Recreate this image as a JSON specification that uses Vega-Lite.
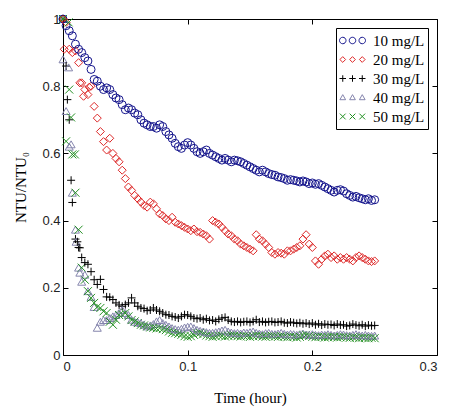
{
"$schema": "https://vega.github.io/schema/vega-lite/v6.json",
"width": 374, "height": 336,
"autosize": "none",
"padding": {"left": 63, "top": 19, "right": 21, "bottom": 58},
"background": "white",
"config": {"view": {"stroke": null},
 "axis": {"grid": false, "domainColor": "black", "tickColor": "black", "labelFont": "Liberation Sans, Arial, sans-serif", "labelFontSize": 13, "labelColor": "#222222", "titleFont": "Liberation Serif, Times New Roman, serif", "titleFontSize": 15, "titleFontWeight": "normal", "titleColor": "black", "tickSize": -5, "domainWidth": 1, "tickWidth": 1}},
"data": {"values": [
{"t":0,"a":1.0,"b":1.0,"c":1.0,"d":0.88,"e":1.0},
{"t":0.0025,"a":0.98,"b":0.99,"c":0.86,"d":0.726,"e":0.636},
{"t":0.005,"a":0.965,"b":0.91,"c":0.70,"d":0.62,"e":0.79},
{"t":0.0075,"a":0.95,"b":0.90,"c":0.454,"d":0.483,"e":0.597},
{"t":0.01,"a":0.925,"b":0.905,"c":0.345,"d":0.373,"e":0.483},
{"t":0.0125,"a":0.91,"b":0.87,"c":0.32,"d":0.26,"e":0.373},
{"t":0.015,"a":0.90,"b":0.81,"c":0.29,"d":0.218,"e":0.26},
{"t":0.0175,"a":0.885,"b":0.79,"c":0.275,"d":0.239,"e":0.224},
{"t":0.02,"a":0.875,"b":0.775,"c":0.27,"d":0.19,"e":0.19},
{"t":0.0225,"a":0.85,"b":0.80,"c":0.248,"d":0.173,"e":0.17},
{"t":0.025,"a":0.82,"b":0.74,"c":0.224,"d":0.143,"e":0.155},
{"t":0.0275,"a":0.815,"b":0.705,"c":0.21,"d":0.081,"e":0.143},
{"t":0.03,"a":0.80,"b":0.665,"c":0.225,"d":0.099,"e":0.14},
{"t":0.0325,"a":0.79,"b":0.635,"c":0.195,"d":0.104,"e":0.13},
{"t":0.035,"a":0.795,"b":0.61,"c":0.173,"d":0.104,"e":0.125},
{"t":0.0375,"a":0.79,"b":0.645,"c":0.172,"d":0.11,"e":0.099},
{"t":0.04,"a":0.775,"b":0.60,"c":0.165,"d":0.115,"e":0.09},
{"t":0.0425,"a":0.765,"b":0.585,"c":0.155,"d":0.119,"e":0.105},
{"t":0.045,"a":0.76,"b":0.575,"c":0.149,"d":0.125,"e":0.119},
{"t":0.0475,"a":0.745,"b":0.55,"c":0.145,"d":0.134,"e":0.12},
{"t":0.05,"a":0.73,"b":0.525,"c":0.15,"d":0.125,"e":0.125},
{"t":0.0525,"a":0.735,"b":0.50,"c":0.155,"d":0.119,"e":0.115},
{"t":0.055,"a":0.73,"b":0.49,"c":0.17,"d":0.105,"e":0.104},
{"t":0.0575,"a":0.72,"b":0.475,"c":0.155,"d":0.099,"e":0.1},
{"t":0.06,"a":0.715,"b":0.465,"c":0.145,"d":0.097,"e":0.095},
{"t":0.0625,"a":0.70,"b":0.455,"c":0.14,"d":0.095,"e":0.09},
{"t":0.065,"a":0.69,"b":0.445,"c":0.138,"d":0.09,"e":0.088},
{"t":0.0675,"a":0.685,"b":0.44,"c":0.132,"d":0.085,"e":0.085},
{"t":0.07,"a":0.68,"b":0.455,"c":0.134,"d":0.088,"e":0.082},
{"t":0.0725,"a":0.68,"b":0.45,"c":0.14,"d":0.092,"e":0.081},
{"t":0.075,"a":0.675,"b":0.435,"c":0.134,"d":0.1,"e":0.079},
{"t":0.0775,"a":0.685,"b":0.42,"c":0.13,"d":0.104,"e":0.08},
{"t":0.08,"a":0.68,"b":0.415,"c":0.125,"d":0.095,"e":0.077},
{"t":0.0825,"a":0.665,"b":0.405,"c":0.12,"d":0.09,"e":0.074},
{"t":0.085,"a":0.655,"b":0.40,"c":0.119,"d":0.085,"e":0.07},
{"t":0.0875,"a":0.645,"b":0.41,"c":0.115,"d":0.08,"e":0.066},
{"t":0.09,"a":0.63,"b":0.395,"c":0.113,"d":0.077,"e":0.065},
{"t":0.0925,"a":0.62,"b":0.39,"c":0.11,"d":0.075,"e":0.063},
{"t":0.095,"a":0.615,"b":0.385,"c":0.115,"d":0.078,"e":0.06},
{"t":0.0975,"a":0.625,"b":0.38,"c":0.12,"d":0.082,"e":0.056},
{"t":0.1,"a":0.632,"b":0.375,"c":0.119,"d":0.084,"e":0.054},
{"t":0.1025,"a":0.625,"b":0.37,"c":0.115,"d":0.085,"e":0.056},
{"t":0.105,"a":0.615,"b":0.375,"c":0.11,"d":0.08,"e":0.06},
{"t":0.1075,"a":0.605,"b":0.367,"c":0.108,"d":0.075,"e":0.064},
{"t":0.11,"a":0.60,"b":0.365,"c":0.11,"d":0.072,"e":0.066},
{"t":0.1125,"a":0.605,"b":0.36,"c":0.105,"d":0.07,"e":0.062},
{"t":0.115,"a":0.61,"b":0.355,"c":0.108,"d":0.068,"e":0.058},
{"t":0.1175,"a":0.60,"b":0.345,"c":0.103,"d":0.066,"e":0.056},
{"t":0.12,"a":0.595,"b":0.40,"c":0.104,"d":0.066,"e":0.054},
{"t":0.1225,"a":0.59,"b":0.395,"c":0.1,"d":0.068,"e":0.056},
{"t":0.125,"a":0.585,"b":0.39,"c":0.106,"d":0.07,"e":0.058},
{"t":0.1275,"a":0.58,"b":0.38,"c":0.11,"d":0.073,"e":0.057},
{"t":0.13,"a":0.585,"b":0.37,"c":0.112,"d":0.075,"e":0.055},
{"t":0.1325,"a":0.58,"b":0.36,"c":0.104,"d":0.07,"e":0.057},
{"t":0.135,"a":0.575,"b":0.355,"c":0.1,"d":0.067,"e":0.059},
{"t":0.1375,"a":0.58,"b":0.345,"c":0.098,"d":0.065,"e":0.058},
{"t":0.14,"a":0.578,"b":0.34,"c":0.1,"d":0.066,"e":0.056},
{"t":0.1425,"a":0.575,"b":0.33,"c":0.097,"d":0.064,"e":0.055},
{"t":0.145,"a":0.57,"b":0.325,"c":0.099,"d":0.067,"e":0.057},
{"t":0.1475,"a":0.565,"b":0.32,"c":0.1,"d":0.066,"e":0.056},
{"t":0.15,"a":0.56,"b":0.315,"c":0.097,"d":0.068,"e":0.054},
{"t":0.1525,"a":0.555,"b":0.31,"c":0.1,"d":0.07,"e":0.056},
{"t":0.155,"a":0.55,"b":0.358,"c":0.105,"d":0.066,"e":0.058},
{"t":0.1575,"a":0.545,"b":0.345,"c":0.098,"d":0.064,"e":0.057},
{"t":0.16,"a":0.55,"b":0.34,"c":0.1,"d":0.062,"e":0.055},
{"t":0.1625,"a":0.545,"b":0.33,"c":0.097,"d":0.065,"e":0.054},
{"t":0.165,"a":0.54,"b":0.32,"c":0.099,"d":0.066,"e":0.056},
{"t":0.1675,"a":0.537,"b":0.305,"c":0.1,"d":0.063,"e":0.057},
{"t":0.17,"a":0.535,"b":0.30,"c":0.097,"d":0.062,"e":0.055},
{"t":0.1725,"a":0.53,"b":0.305,"c":0.098,"d":0.064,"e":0.054},
{"t":0.175,"a":0.528,"b":0.303,"c":0.1,"d":0.066,"e":0.056},
{"t":0.1775,"a":0.525,"b":0.30,"c":0.096,"d":0.063,"e":0.055},
{"t":0.18,"a":0.52,"b":0.31,"c":0.095,"d":0.061,"e":0.053},
{"t":0.1825,"a":0.522,"b":0.31,"c":0.098,"d":0.063,"e":0.055},
{"t":0.185,"a":0.52,"b":0.315,"c":0.096,"d":0.062,"e":0.054},
{"t":0.1875,"a":0.518,"b":0.32,"c":0.094,"d":0.06,"e":0.052},
{"t":0.19,"a":0.515,"b":0.325,"c":0.096,"d":0.062,"e":0.054},
{"t":0.1925,"a":0.518,"b":0.345,"c":0.093,"d":0.064,"e":0.058},
{"t":0.195,"a":0.515,"b":0.358,"c":0.095,"d":0.061,"e":0.06},
{"t":0.1975,"a":0.51,"b":0.33,"c":0.092,"d":0.06,"e":0.057},
{"t":0.2,"a":0.512,"b":0.32,"c":0.095,"d":0.062,"e":0.054},
{"t":0.2025,"a":0.508,"b":0.28,"c":0.09,"d":0.06,"e":0.053},
{"t":0.205,"a":0.51,"b":0.27,"c":0.093,"d":0.059,"e":0.055},
{"t":0.2075,"a":0.505,"b":0.285,"c":0.089,"d":0.061,"e":0.054},
{"t":0.21,"a":0.50,"b":0.295,"c":0.092,"d":0.06,"e":0.052},
{"t":0.2125,"a":0.495,"b":0.30,"c":0.09,"d":0.062,"e":0.053},
{"t":0.215,"a":0.49,"b":0.29,"c":0.091,"d":0.06,"e":0.055},
{"t":0.2175,"a":0.485,"b":0.295,"c":0.088,"d":0.058,"e":0.054},
{"t":0.22,"a":0.49,"b":0.285,"c":0.092,"d":0.06,"e":0.052},
{"t":0.2225,"a":0.492,"b":0.29,"c":0.089,"d":0.062,"e":0.053},
{"t":0.225,"a":0.488,"b":0.285,"c":0.09,"d":0.061,"e":0.054},
{"t":0.2275,"a":0.48,"b":0.29,"c":0.086,"d":0.059,"e":0.052},
{"t":0.23,"a":0.475,"b":0.285,"c":0.088,"d":0.058,"e":0.051},
{"t":0.2325,"a":0.47,"b":0.28,"c":0.092,"d":0.06,"e":0.053},
{"t":0.235,"a":0.472,"b":0.29,"c":0.089,"d":0.062,"e":0.052},
{"t":0.2375,"a":0.468,"b":0.295,"c":0.087,"d":0.059,"e":0.05},
{"t":0.24,"a":0.465,"b":0.29,"c":0.09,"d":0.058,"e":0.052},
{"t":0.2425,"a":0.462,"b":0.285,"c":0.086,"d":0.06,"e":0.051},
{"t":0.245,"a":0.465,"b":0.28,"c":0.089,"d":0.058,"e":0.05},
{"t":0.2475,"a":0.46,"b":0.278,"c":0.087,"d":0.057,"e":0.051},
{"t":0.25,"a":0.462,"b":0.28,"c":0.088,"d":0.058,"e":0.05},
{"t":0.001,"b":0.91},
{"t":0.0035,"c":0.76},
{"t":0.0045,"d":0.856,"e":0.99},
{"t":0.0065,"c":0.52,"d":0.627,"e":0.707},
{"t":0.0095,"e":0.597},
{"t":0.0105,"d":0.337},
{"t":0.0115,"c":0.337},
{"t":0.0135,"b":0.81,"c":0.319,"d":0.245},
{"t":0.0165,"b":0.77},
{"t":0.021,"b":0.797}
]},
"transform": [{"fold": ["a","b","c","d","e"], "as": ["s","v"]}, {"filter": "isValid(datum.v)"}],
"layer": [
 {"mark": {"type": "point", "filled": false, "strokeWidth": 1, "size": 64, "opacity": 1},
  "encoding": {
   "x": {"field": "t", "type": "quantitative", "scale": {"domain": [0, 0.3], "nice": false},
         "axis": {"orient": "bottom", "values": [0, 0.1, 0.2, 0.3], "format": "~g", "title": "Time (hour)", "labelPadding": 10, "titlePadding": 17}},
   "y": {"field": "v", "type": "quantitative", "scale": {"domain": [0, 1], "nice": false},
         "axis": {"orient": "left", "values": [0, 0.2, 0.4, 0.6, 0.8, 1], "format": "~g", "title": "NTU/NTU₀", "labelPadding": 8, "titlePadding": 13}},
   "color": {"field": "s", "type": "nominal", "scale": {"domain": ["a","b","c","d","e"], "range": ["#14148c", "#dd2828", "#000000", "#8585ad", "#239023"]}, "legend": null},
   "shape": {"field": "s", "type": "nominal", "scale": {"domain": ["a","b","c","d","e"], "range": ["circle", "diamond", "M-1,0H1M0,-1V1", "triangle-up", "M-1,-1L1,1M-1,1L1,-1"]}, "legend": null}
  }},
 {"transform": [{"filter": "datum.t == 0.25"}],
  "mark": {"type": "point", "filled": false, "strokeWidth": 1, "opacity": 0},
  "encoding": {
   "x": {"field": "t", "type": "quantitative", "scale": {"domain": [0, 0.3], "nice": false},
         "axis": {"orient": "top", "values": [0, 0.1, 0.2, 0.3], "labels": false, "title": null}},
   "y": {"field": "v", "type": "quantitative", "scale": {"domain": [0, 1], "nice": false},
         "axis": {"orient": "right", "values": [0, 0.2, 0.4, 0.6, 0.8, 1], "labels": false, "title": null}},
   "color": {"field": "s", "type": "nominal", "scale": {"domain": ["a","b","c","d","e"], "range": ["#14148c", "#dd2828", "#000000", "#8585ad", "#239023"]},
     "legend": {"orient": "top-right", "offset": 9, "title": null, "labelFont": "Liberation Serif, Times New Roman, serif", "labelFontSize": 15, "labelColor": "black", "strokeColor": "black", "fillColor": "white", "padding": 3, "symbolSize": 676, "symbolStrokeWidth": 1, "symbolOpacity": 1, "clipHeight": 19, "rowPadding": 0, "labelOffset": 7,
       "labelExpr": "{'a':'10 mg/L','b':'20 mg/L','c':'30 mg/L','d':'40 mg/L','e':'50 mg/L'}[datum.label]"}},
   "shape": {"field": "s", "type": "nominal", "scale": {"domain": ["a","b","c","d","e"], "range": [
      "M-1,0A0.25,0.25,0,1,0,-0.5,0A0.25,0.25,0,1,0,-1,0ZM-0.25,0A0.25,0.25,0,1,0,0.25,0A0.25,0.25,0,1,0,-0.25,0ZM0.5,0A0.25,0.25,0,1,0,1,0A0.25,0.25,0,1,0,0.5,0Z",
      "M-0.75,-0.22L-0.53,0L-0.75,0.22L-0.97,0ZM0,-0.22L0.22,0L0,0.22L-0.22,0ZM0.75,-0.22L0.97,0L0.75,0.22L0.53,0Z",
      "M-1,0H-0.5M-0.75,-0.25V0.25M-0.25,0H0.25M0,-0.25V0.25M0.5,0H1M0.75,-0.25V0.25",
      "M-0.75,-0.22L-0.53,0.17L-0.97,0.17ZM0,-0.22L0.22,0.17L-0.22,0.17ZM0.75,-0.22L0.97,0.17L0.53,0.17Z",
      "M-0.97,-0.22L-0.53,0.22M-0.97,0.22L-0.53,-0.22M-0.22,-0.22L0.22,0.22M-0.22,0.22L0.22,-0.22M0.53,-0.22L0.97,0.22M0.53,0.22L0.97,-0.22"]},
     "legend": {"orient": "top-right", "offset": 9, "title": null, "labelFont": "Liberation Serif, Times New Roman, serif", "labelFontSize": 15, "labelColor": "black", "strokeColor": "black", "fillColor": "white", "padding": 3, "symbolSize": 676, "symbolStrokeWidth": 1, "symbolOpacity": 1, "clipHeight": 19, "rowPadding": 0, "labelOffset": 7,
       "labelExpr": "{'a':'10 mg/L','b':'20 mg/L','c':'30 mg/L','d':'40 mg/L','e':'50 mg/L'}[datum.label]"}}
  }}
],
"resolve": {"scale": {"color": "independent", "shape": "independent"}, "axis": {"x": "independent", "y": "independent"}}
}
